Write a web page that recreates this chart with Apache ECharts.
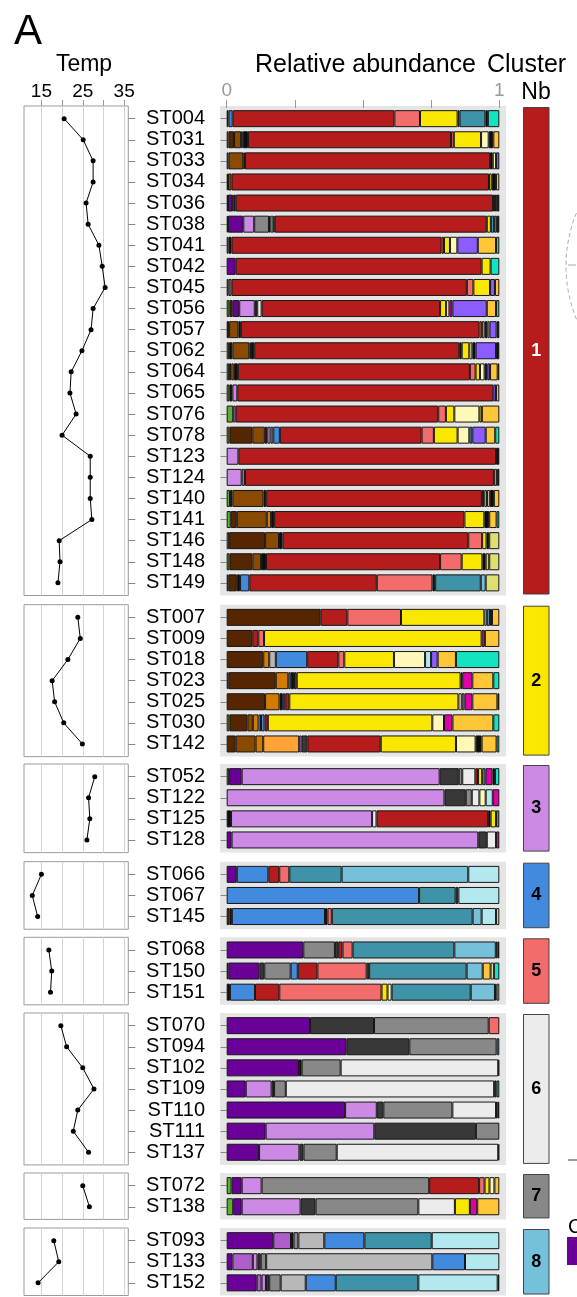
<!DOCTYPE html>
<html>
<head>
<meta charset="utf-8">
<script src="https://cdn.jsdelivr.net/npm/echarts@6/dist/echarts.min.js"></script>
<style>
  html, body { margin: 0; padding: 0; background: #fff; }
  #chart { width: 577px; height: 1297px; }
</style>
</head>
<body>
<div id="chart"></div>
<script>
// one list of stations per cluster, top to bottom
const clusterStations = [
  ['ST004', 'ST031', 'ST033', 'ST034', 'ST036', 'ST038', 'ST041', 'ST042', 'ST045', 'ST056', 'ST057', 'ST062',
   'ST064', 'ST065', 'ST076', 'ST078', 'ST123', 'ST124', 'ST140', 'ST141', 'ST146', 'ST148', 'ST149'],
  ['ST007', 'ST009', 'ST018', 'ST023', 'ST025', 'ST030', 'ST142'],
  ['ST052', 'ST122', 'ST125', 'ST128'],
  ['ST066', 'ST067', 'ST145'],
  ['ST068', 'ST150', 'ST151'],
  ['ST070', 'ST094', 'ST102', 'ST109', 'ST110', 'ST111', 'ST137'],
  ['ST072', 'ST138'],
  ['ST093', 'ST133', 'ST152'],
]

// temperature (°C) per station
const clusterTemps = [
  [20.5, 25.1, 27.5, 27.5, 25.8, 26.3, 28.9, 29.7, 30.4, 27.5, 27.0, 24.8, 22.2, 21.9, 23.4, 20.0, 26.8, 26.8, 26.8, 27.2, 19.3, 19.5, 19.0],
  [23.8, 24.4, 21.4, 17.6, 18.2, 20.4, 24.9],
  [27.9, 26.4, 26.7, 26.0],
  [15.0, 12.8, 14.1],
  [16.8, 17.5, 17.2],
  [19.7, 21.1, 25.0, 27.7, 23.8, 22.7, 26.4],
  [25.0, 26.6],
  [18.0, 19.2, 14.2],
]

const clusterNames = ['1', '2', '3', '4', '5', '6', '7', '8']
const clusterColors = ['#B61C1C', '#F9E700', '#CD89E6', '#428ADD', '#F46B6B', '#ECECEC', '#888888', '#75C1D9']

const tempTicks = [15, 20, 25, 30, 35]
const tempLabels = [15, 25, 35]
const abundTicks = [0, 0.25, 0.5, 0.75, 1]
const abundLabels = [0, 1]

// taxon colours
const palette = {
  G: '#5BB12F', D: '#552600', N: '#8A4A00', O: '#D37A00', S: '#FFA338',
  P: '#6B0099', M: '#AE5ECB', L: '#CD89E6', K: '#383838', X: '#0d0d0d',
  A: '#888888', V: '#B8B8B8', W: '#ECECEC', B: '#428ADD', R: '#B61C1C',
  F: '#F46B6B', Y: '#F9E700', C: '#FFF8B8', T: '#3F93A8', Q: '#75C1D9',
  I: '#B2E9F1', Z: '#DF00A8', U: '#8B5CFF', E: '#FFC638', H: '#DDE070', J: '#12E4C2',
}

// relative abundance, left to right, [taxon, fraction]
const comp1 = [
  [['X', .007], ['B', .015], ['R', .593], ['F', .094], ['Y', .138], ['K', .007], ['T', .095], ['X', .009], ['J', .042]],
  [['G', .007], ['D', .02], ['N', .026], ['O', .006], ['X', .019], ['R', .745], ['F', .01], ['Y', .1], ['C', .028], ['X', .017], ['E', .022]],
  [['G', .007], ['N', .054], ['X', .006], ['R', .899], ['X', .01], ['C', .012], ['U', .012]],
  [['D', .005], ['N', .013], ['R', .944], ['Y', .01], ['X', .016], ['E', .012]],
  [['K', .005], ['P', .015], ['L', .006], ['X', .007], ['R', .944], ['F', .007], ['Y', .007], ['X', .009]],
  [['K', .005], ['P', .056], ['L', .04], ['A', .054], ['X', .006], ['W', .01], ['X', .005], ['R', .778], ['Y', .015], ['T', .012], ['U', .01], ['X', .009]],
  [['G', .007], ['X', .011], ['R', .77], ['F', .009], ['Y', .022], ['C', .027], ['U', .075], ['E', .067], ['J', .012]],
  [['P', .033], ['R', .902], ['Y', .033], ['J', .032]],
  [['U', .007], ['A', .011], ['R', .862], ['F', .024], ['Y', .061], ['U', .018], ['E', .016]],
  [['G', .01], ['D', .012], ['P', .024], ['L', .057], ['X', .009], ['W', .016], ['R', .654], ['Y', .022], ['C', .012], ['Z', .011], ['U', .126], ['E', .034], ['J', .012]],
  [['X', .009], ['N', .034], ['X', .009], ['R', .875], ['F', .009], ['Y', .01], ['X', .01], ['C', .008], ['U', .026], ['X', .01]],
  [['G', .009], ['X', .012], ['N', .062], ['O', .006], ['X', .012], ['R', .752], ['X', .009], ['Y', .028], ['C', .011], ['X', .012], ['U', .075], ['X', .012]],
  [['G', .009], ['X', .008], ['O', .009], ['X', .015], ['R', .851], ['F', .021], ['Y', .016], ['C', .017], ['X', .01], ['U', .01], ['E', .028], ['X', .006]],
  [['G', .01], ['X', .011], ['L', .018], ['R', .939], ['U', .01], ['E', .012]],
  [['G', .024], ['L', .009], ['R', .743], ['F', .028], ['Y', .031], ['C', .092], ['Y', .009], ['E', .064]],
  [['G', .01], ['D', .084], ['N', .046], ['X', .009], ['L', .012], ['V', .01], ['B', .024], ['R', .52], ['F', .045], ['Y', .087], ['C', .043], ['T', .011], ['U', .049], ['E', .035], ['J', .015]],
  [['L', .043], ['R', .945], ['X', .012]],
  [['L', .055], ['A', .012], ['R', .913], ['F', .012], ['X', .008]],
  [['G', .012], ['X', .009], ['N', .114], ['X', .01], ['R', .791], ['X', .009], ['Y', .01], ['C', .01], ['X', .015], ['E', .02]],
  [['G', .015], ['D', .022], ['N', .11], ['O', .016], ['X', .011], ['R', .698], ['Y', .073], ['X', .018], ['E', .027], ['J', .01]],
  [['G', .009], ['D', .132], ['N', .051], ['X', .013], ['R', .681], ['F', .051], ['Y', .016], ['X', .01], ['H', .037]],
  [['G', .01], ['D', .084], ['N', .032], ['X', .018], ['R', .638], ['F', .079], ['Y', .076], ['X', .012], ['E', .013], ['H', .037]],
  [['G', .006], ['D', .031], ['X', .012], ['B', .034], ['R', .467], ['F', .204], ['X', .01], ['T', .167], ['Q', .018], ['H', .05]],
]
const comp2 = [
  [['D', .345], ['R', .098], ['F', .197], ['Y', .306], ['C', .009], ['T', .012], ['X', .007], ['E', .027]],
  [['D', .094], ['R', .022], ['F', .021], ['Y', .798], ['Z', .012], ['E', .053]],
  [['D', .134], ['O', .022], ['V', .024], ['B', .115], ['R', .114], ['F', .022], ['Y', .182], ['C', .114], ['I', .022], ['U', .024], ['E', .067], ['J', .159]],
  [['G', .006], ['D', .174], ['O', .046], ['B', .009], ['X', .012], ['R', .01], ['Y', .601], ['X', .006], ['Z', .037], ['E', .077], ['J', .022]],
  [['D', .141], ['O', .053], ['X', .012], ['B', .009], ['R', .015], ['Y', .621], ['C', .012], ['L', .01], ['Z', .029], ['E', .092], ['X', .007]],
  [['G', .01], ['D', .066], ['N', .02], ['O', .021], ['V', .009], ['B', .013], ['R', .012], ['Y', .604], ['C', .043], ['Z', .031], ['E', .15], ['J', .022]],
  [['D', .033], ['N', .073], ['O', .028], ['S', .132], ['L', .009], ['K', .021], ['R', .269], ['Y', .276], ['C', .072], ['X', .022], ['E', .055], ['J', .01]],
]
const comp3 = [
  [['G', .009], ['P', .046], ['L', .727], ['K', .07], ['A', .013], ['W', .048], ['R', .01], ['Y', .015], ['T', .012], ['Z', .026], ['X', .009], ['J', .016]],
  [['L', .798], ['K', .078], ['A', .022], ['W', .028], ['C', .023], ['I', .026], ['Z', .024]],
  [['X', .016], ['L', .518], ['W', .016], ['R', .41], ['X', .009], ['Y', .02], ['T', .012]],
  [['P', .018], ['L', .905], ['K', .031], ['W', .034], ['Z', .012]],
]
const comp4 = [
  [['P', .037], ['B', .116], ['R', .04], ['F', .037], ['T', .192], ['Q', .465], ['I', .114]],
  [['B', .705], ['T', .134], ['K', .01], ['I', .15]],
  [['D', .01], ['X', .009], ['B', .342], ['X', .009], ['F', .016], ['T', .517], ['Q', .033], ['I', .053], ['H', .012]],
]
const comp5 = [
  [['P', .281], ['A', .116], ['K', .012], ['R', .016], ['F', .037], ['T', .373], ['Q', .152], ['T', .006], ['X', .007]],
  [['X', .006], ['P', .114], ['K', .018], ['A', .097], ['B', .026], ['R', .072], ['F', .181], ['N', .009], ['T', .358], ['Q', .059], ['E', .029], ['C', .012], ['J', .02]],
  [['X', .012], ['B', .092], ['R', .089], ['F', .375], ['Y', .022], ['C', .015], ['T', .29], ['Q', .089], ['X', .006], ['H', .01]],
]
const comp6 = [
  [['P', .306], ['K', .235], ['A', .421], ['F', .039]],
  [['P', .44], ['K', .23], ['A', .32], ['B', .01]],
  [['P', .265], ['X', .01], ['A', .143], ['W', .578], ['X', .004]],
  [['P', .07], ['L', .095], ['K', .009], ['A', .043], ['W', .765], ['K', .009], ['J', .01]],
  [['P', .434], ['L', .116], ['K', .024], ['A', .253], ['W', .16], ['B', .006], ['X', .006]],
  [['P', .143], ['L', .399], ['K', .373], ['A', .086]],
  [['P', .119], ['L', .148], ['K', .015], ['A', .122], ['W', .593], ['X', .004]],
]
const comp7 = [
  [['G', .018], ['P', .037], ['L', .073], ['A', .614], ['R', .183], ['F', .02], ['Y', .018], ['C', .018], ['E', .018]],
  [['G', .024], ['P', .031], ['L', .216], ['K', .055], ['A', .377], ['W', .134], ['Y', .055], ['Z', .027], ['E', .081]],
]
const comp8 = [
  [['P', .171], ['M', .065], ['X', .009], ['A', .018], ['V', .095], ['B', .147], ['T', .247], ['I', .248]],
  [['P', .021], ['M', .075], ['L', .017], ['K', .012], ['A', .02], ['V', .61], ['B', .12], ['I', .126]],
  [['P', .11], ['M', .018], ['L', .016], ['K', .012], ['A', .042], ['V', .092], ['B', .11], ['T', .303], ['I', .291], ['X', .006]],
]
const clusterComp = [comp1, comp2, comp3, comp4, comp5, comp6, comp7, comp8]

// layout
const FONT = '"Liberation Sans", Arial, sans-serif'
const ROW = 21.1
const panelTops = [106, 604.7, 764, 861.7, 937.3, 1013, 1173, 1228]

const grids = []
const xAxes = []
const yAxes = []
const series = []
const graphics = []

clusterStations.forEach((stations, k) => {
  const n = stations.length
  const top = panelTops[k]
  const h = (n + 0.2) * ROW
  const first = k === 0
  const gi = 3 * k

  // temperature panel
  grids.push({ left: 24, top: top, width: 104.3, height: h, show: true, backgroundColor: '#fff', borderColor: '#9a9a9a', borderWidth: 1 })
  xAxes.push({
    gridIndex: gi, type: 'value', position: 'top', min: 10.8, max: 36,
    axisLine: { show: false }, splitLine: { show: false },
    axisTick: { show: first, customValues: tempTicks, length: 6, lineStyle: { color: '#999' } },
    axisLabel: { show: first, customValues: tempLabels, margin: 5, fontSize: 19, color: '#000', fontFamily: FONT },
  })
  yAxes.push({
    gridIndex: gi, type: 'value', inverse: true, min: 0.4, max: n + 0.6, position: 'right',
    axisLine: { show: false }, splitLine: { show: false }, axisLabel: { show: false },
    axisTick: { show: true, customValues: stations.map((s, i) => i + 1), length: 7, lineStyle: { color: '#888' } },
  })
  series.push({
    type: 'line', xAxisIndex: gi, yAxisIndex: gi, z: 3,
    data: clusterTemps[k].map((t, i) => [t, i + 1]),
    symbol: 'circle', symbolSize: 5,
    itemStyle: { color: '#000' }, lineStyle: { color: '#000', width: 1 },
    markLine: {
      silent: true, z: 1, symbol: ['none', 'none'], label: { show: false },
      lineStyle: { color: '#d4d4d4', type: 'solid', width: 1 },
      data: tempTicks.map(v => ({ xAxis: v })),
    },
  })

  // abundance panel
  graphics.push({ type: 'rect', z: -1, silent: true, shape: { x: 220, y: top, width: 286, height: h }, style: { fill: '#e5e5e5' } })
  grids.push({ left: 220, top: top + 0.1 * ROW, width: 286, height: n * ROW })
  xAxes.push({
    gridIndex: gi + 1, type: 'value', position: 'top', min: -0.0245, max: 1.0245,
    axisLine: { show: false }, splitLine: { show: false },
    axisTick: { show: first, customValues: abundTicks, length: 8, lineStyle: { color: '#999' } },
    axisLabel: { show: first, customValues: abundLabels, margin: 8, fontSize: 19, color: '#999', fontFamily: FONT },
  })
  yAxes.push({
    gridIndex: gi + 1, type: 'category', inverse: true, data: stations,
    axisLine: { show: false },
    axisTick: { show: true, interval: 0, alignWithLabel: true, length: 6, lineStyle: { color: '#888' } },
    axisLabel: { interval: 0, fontSize: 20, color: '#000', margin: 15, fontFamily: FONT },
  })
  const rows = clusterComp[k]
  const maxSeg = Math.max(...rows.map(r => r.length))
  for (let s = 0; s < maxSeg; s++) {
    series.push({
      type: 'bar', xAxisIndex: gi + 1, yAxisIndex: gi + 1, stack: 'c' + k, barWidth: 17,
      itemStyle: { borderColor: '#151515', borderWidth: 1 },
      data: rows.map(r => {
        const total = r.reduce((a, b) => a + b[1], 0)
        if (!r[s]) return { value: 0, itemStyle: { borderWidth: 0, opacity: 0 } }
        return { value: r[s][1] / total, itemStyle: { color: palette[r[s][0]] } }
      }),
    })
  }

  // cluster number
  grids.push({ left: 523, top: top + 1, width: 26.5, height: h - 2 })
  xAxes.push({ gridIndex: gi + 2, type: 'value', min: 0, max: 1, show: false })
  yAxes.push({ gridIndex: gi + 2, type: 'category', data: [clusterNames[k]], show: false })
  series.push({
    type: 'bar', xAxisIndex: gi + 2, yAxisIndex: gi + 2, barWidth: '100%', data: [1],
    itemStyle: { color: clusterColors[k], borderColor: '#444', borderWidth: 1 },
    label: {
      show: true, position: 'inside', formatter: clusterNames[k],
      color: k === 0 ? '#fff' : '#000', fontWeight: 'bold', fontSize: 18, fontFamily: FONT,
    },
  })
})

const titleFont = '23px "Liberation Sans", Arial, sans-serif'
const bigTitleFont = '25px "Liberation Sans", Arial, sans-serif'
graphics.push(
  { type: 'text', style: { text: 'A', x: 14, y: 32, font: '42px "Liberation Sans", Arial, sans-serif', textVerticalAlign: 'middle', fill: '#000' } },
  { type: 'text', style: { text: 'Temp', x: 84, y: 65, font: titleFont, textAlign: 'center', textVerticalAlign: 'middle', fill: '#000' } },
  { type: 'text', style: { text: 'Relative abundance', x: 255, y: 65, font: bigTitleFont, textVerticalAlign: 'middle', fill: '#000' } },
  { type: 'text', style: { text: 'Cluster', x: 487, y: 65, font: bigTitleFont, textVerticalAlign: 'middle', fill: '#000' } },
  { type: 'text', style: { text: 'Nb', x: 536, y: 93, font: titleFont, textAlign: 'center', textVerticalAlign: 'middle', fill: '#000' } },
  // pieces of the neighbouring panels cut by the right edge
  { type: 'circle', silent: true, shape: { cx: 706, cy: 266, r: 140 }, style: { fill: 'none', stroke: '#aaa', lineWidth: 1, lineDash: [4, 3] } },
  { type: 'line', silent: true, shape: { x1: 568, y1: 265, x2: 576, y2: 265 }, style: { stroke: '#aaa', lineWidth: 1 } },
  { type: 'line', silent: true, shape: { x1: 568, y1: 1160, x2: 577, y2: 1160 }, style: { stroke: '#333', lineWidth: 1 } },
  { type: 'text', style: { text: 'C', x: 568, y: 1227, font: '20px "Liberation Sans", Arial, sans-serif', textVerticalAlign: 'middle', fill: '#000' } },
  { type: 'rect', silent: true, shape: { x: 567, y: 1237, width: 12, height: 28 }, style: { fill: '#6B0099' } },
)

const chart = echarts.init(document.getElementById('chart'), null, { renderer: 'canvas' })
chart.setOption({
  animation: false,
  backgroundColor: '#fff',
  textStyle: { fontFamily: FONT },
  grid: grids,
  xAxis: xAxes,
  yAxis: yAxes,
  series: series,
  graphic: { elements: graphics },
})
</script>
</body>
</html>
